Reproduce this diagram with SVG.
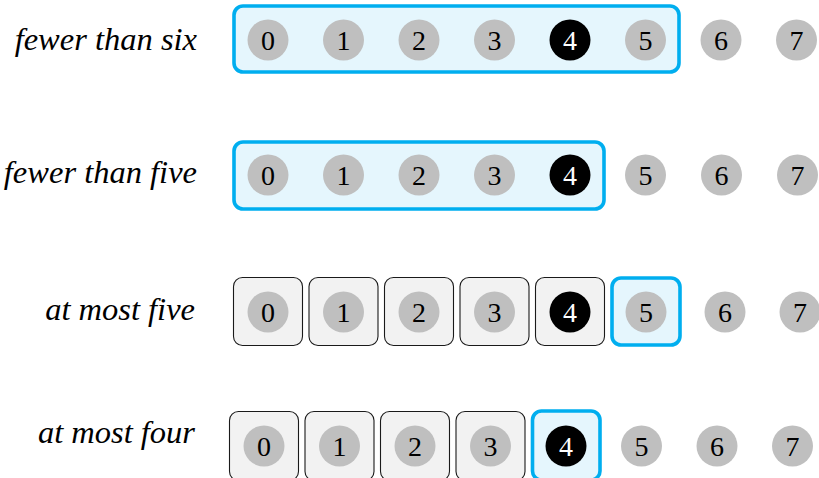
<svg xmlns="http://www.w3.org/2000/svg" width="819" height="478" viewBox="0 0 819 478">
<style>
.c{fill:#bfbfbf}
.cb{fill:#000}
.sel{fill:#e5f6fd;stroke:#00aeef;stroke-width:3.6}
.box{fill:#f2f2f2;stroke:#1a1a1a;stroke-width:1.1}
</style>
<rect width="819" height="478" fill="#fff"/>
<g id="connectors"></g>

<g id="row1" font-family="Times New Roman">
<text x="197" y="50" font-style="italic" font-size="32.5" text-anchor="end">fewer than six</text>
<rect class="sel" x="234" y="6" width="445" height="66" rx="9"/>
<g id="r1n0"><circle class="c" cx="268" cy="40" r="20.5"/><text x="268" y="49.5" font-size="28" text-anchor="middle">0</text></g>
<g id="r1n1"><circle class="c" cx="343.5" cy="40" r="20.5"/><text x="343.5" y="49.5" font-size="28" text-anchor="middle">1</text></g>
<g id="r1n2"><circle class="c" cx="419" cy="40" r="20.5"/><text x="419" y="49.5" font-size="28" text-anchor="middle">2</text></g>
<g id="r1n3"><circle class="c" cx="494.5" cy="40" r="20.5"/><text x="494.5" y="49.5" font-size="28" text-anchor="middle">3</text></g>
<g id="r1n4"><circle class="cb" cx="570" cy="40" r="20.5"/><text x="570" y="49.5" font-size="28" text-anchor="middle" fill="#fff">4</text></g>
<g id="r1n5"><circle class="c" cx="645.5" cy="40" r="20.5"/><text x="645.5" y="49.5" font-size="28" text-anchor="middle">5</text></g>
<g id="r1n6"><circle class="c" cx="721" cy="40" r="20.5"/><text x="721" y="49.5" font-size="28" text-anchor="middle">6</text></g>
<g id="r1n7"><circle class="c" cx="796.5" cy="40" r="20.5"/><text x="796.5" y="49.5" font-size="28" text-anchor="middle">7</text></g>
</g>

<g id="row2" font-family="Times New Roman">
<text x="197" y="183" font-style="italic" font-size="32.5" text-anchor="end">fewer than five</text>
<rect class="sel" x="234" y="142" width="370" height="67" rx="9"/>
<g id="r2n0"><circle class="c" cx="268" cy="175" r="20.5"/><text x="268" y="184.5" font-size="28" text-anchor="middle">0</text></g>
<g id="r2n1"><circle class="c" cx="343.5" cy="175" r="20.5"/><text x="343.5" y="184.5" font-size="28" text-anchor="middle">1</text></g>
<g id="r2n2"><circle class="c" cx="419" cy="175" r="20.5"/><text x="419" y="184.5" font-size="28" text-anchor="middle">2</text></g>
<g id="r2n3"><circle class="c" cx="494.5" cy="175" r="20.5"/><text x="494.5" y="184.5" font-size="28" text-anchor="middle">3</text></g>
<g id="r2n4"><circle class="cb" cx="570" cy="175" r="20.5"/><text x="570" y="184.5" font-size="28" text-anchor="middle" fill="#fff">4</text></g>
<g id="r2n5"><circle class="c" cx="645.5" cy="175" r="20.5"/><text x="645.5" y="184.5" font-size="28" text-anchor="middle">5</text></g>
<g id="r2n6"><circle class="c" cx="721.5" cy="175" r="20.5"/><text x="721.5" y="184.5" font-size="28" text-anchor="middle">6</text></g>
<g id="r2n7"><circle class="c" cx="797.5" cy="175" r="20.5"/><text x="797.5" y="184.5" font-size="28" text-anchor="middle">7</text></g>
</g>

<g id="row3" font-family="Times New Roman">
<text x="195" y="320" font-style="italic" font-size="32.5" text-anchor="end">at most five</text>
<g id="r3n0"><rect class="box" x="233.5" y="277.5" width="69" height="68" rx="9"/><circle class="c" cx="268" cy="312" r="20.5"/><text x="268" y="321.5" font-size="28" text-anchor="middle">0</text></g>
<g id="r3n1"><rect class="box" x="309" y="277.5" width="69" height="68" rx="9"/><circle class="c" cx="343.5" cy="312" r="20.5"/><text x="343.5" y="321.5" font-size="28" text-anchor="middle">1</text></g>
<g id="r3n2"><rect class="box" x="384.5" y="277.5" width="69" height="68" rx="9"/><circle class="c" cx="419" cy="312" r="20.5"/><text x="419" y="321.5" font-size="28" text-anchor="middle">2</text></g>
<g id="r3n3"><rect class="box" x="460" y="277.5" width="69" height="68" rx="9"/><circle class="c" cx="494.5" cy="312" r="20.5"/><text x="494.5" y="321.5" font-size="28" text-anchor="middle">3</text></g>
<g id="r3n4"><rect class="box" x="535.5" y="277.5" width="69" height="68" rx="9"/><circle class="cb" cx="570" cy="312" r="20.5"/><text x="570" y="321.5" font-size="28" text-anchor="middle" fill="#fff">4</text></g>
<g id="r3n5"><rect class="sel" x="612" y="278" width="68" height="67" rx="9"/><circle class="c" cx="646" cy="312" r="20.5"/><text x="646" y="321.5" font-size="28" text-anchor="middle">5</text></g>
<g id="r3n6"><circle class="c" cx="725" cy="312" r="20.5"/><text x="725" y="321.5" font-size="28" text-anchor="middle">6</text></g>
<g id="r3n7"><circle class="c" cx="800" cy="312" r="20.5"/><text x="800" y="321.5" font-size="28" text-anchor="middle">7</text></g>
</g>

<g id="row4" font-family="Times New Roman">
<text x="195" y="443" font-style="italic" font-size="32.5" text-anchor="end">at most four</text>
<g id="r4n0"><rect class="box" x="229.5" y="411.5" width="69" height="69" rx="9"/><circle class="c" cx="264" cy="446" r="20.5"/><text x="264" y="455.5" font-size="28" text-anchor="middle">0</text></g>
<g id="r4n1"><rect class="box" x="305" y="411.5" width="69" height="69" rx="9"/><circle class="c" cx="339.5" cy="446" r="20.5"/><text x="339.5" y="455.5" font-size="28" text-anchor="middle">1</text></g>
<g id="r4n2"><rect class="box" x="380.5" y="411.5" width="69" height="69" rx="9"/><circle class="c" cx="415" cy="446" r="20.5"/><text x="415" y="455.5" font-size="28" text-anchor="middle">2</text></g>
<g id="r4n3"><rect class="box" x="456" y="411.5" width="69" height="69" rx="9"/><circle class="c" cx="490.5" cy="446" r="20.5"/><text x="490.5" y="455.5" font-size="28" text-anchor="middle">3</text></g>
<g id="r4n4"><rect class="sel" x="532.5" y="411" width="67.5" height="69" rx="9"/><circle class="cb" cx="566" cy="446" r="20.5"/><text x="566" y="455.5" font-size="28" text-anchor="middle" fill="#fff">4</text></g>
<g id="r4n5"><circle class="c" cx="641.5" cy="446" r="20.5"/><text x="641.5" y="455.5" font-size="28" text-anchor="middle">5</text></g>
<g id="r4n6"><circle class="c" cx="717" cy="446" r="20.5"/><text x="717" y="455.5" font-size="28" text-anchor="middle">6</text></g>
<g id="r4n7"><circle class="c" cx="792.5" cy="446" r="20.5"/><text x="792.5" y="455.5" font-size="28" text-anchor="middle">7</text></g>
</g>
</svg>
